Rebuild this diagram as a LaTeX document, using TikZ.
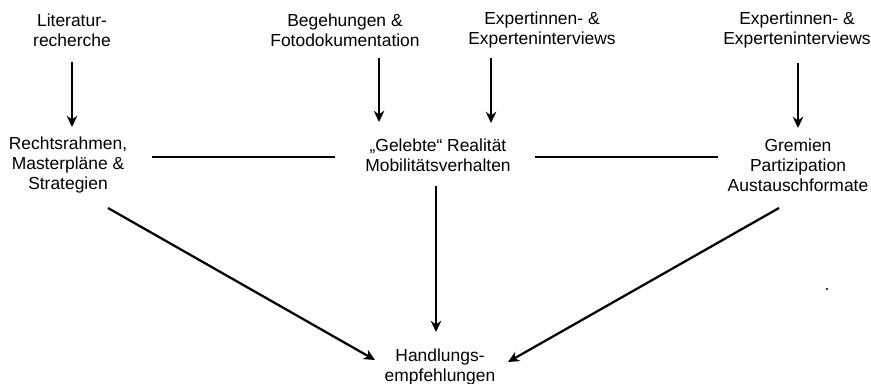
\documentclass[tikz,border=0pt]{standalone}
\usepackage{fontspec}
\setmainfont{Liberation Sans}
\usepackage{tikz}
\usetikzlibrary{arrows.meta, calc}

\begin{document}
\begin{tikzpicture}[
    x=0.025cm, y=-0.025cm,
    label/.style={align=center, inner sep=0pt, font=\fontsize{12.4}{14.2}\selectfont},
    arrow/.style={-{Stealth[length=8pt,width=7.5pt]}, line width=1.6pt},
    link/.style={line width=1.6pt}
]
\useasboundingbox (0,0) rectangle (871,383);

\node[label] (lit) at (72,30) {Literatur-\\recherche};
\node[label] (beg) at (345,30) {Begehungen \&\\Fotodokumentation};
\node[label] (expA) at (542,30) {Expertinnen- \&\\Experteninterviews};
\node[label] (expB) at (797,30) {Expertinnen- \&\\Experteninterviews};
\node[label] (recht) at (68,165) {Rechtsrahmen,\\Masterpläne \&\\Strategien};
\node[label] (real) at (438,155) {„Gelebte“ Realität\\Mobilitätsverhalten};
\node[label] (grem) at (798,165) {Gremien\\Partizipation\\Austauschformate};
\node[label] (handl) at (440,367) {Handlungs-\\empfehlungen};
\node[label, anchor=base] (dot) at (827,290) {.};

\draw[arrow] ($(lit)+(0,32)$) -- ($(recht)+(4,-38)$);
\draw[arrow] ($(beg)+(34,28)$) -- ($(real)+(-59,-33)$);
\draw[arrow] ($(expA)+(-51,28)$) -- ($(real)+(53,-32)$);
\draw[arrow] ($(expB)+(1,33)$) -- ($(grem)+(0,-37)$);

\draw[link] ($(recht)+(84,-8)$) -- ($(real)+(-103,2)$);
\draw[link] ($(real)+(97,2)$) -- ($(grem)+(-80,-8)$);

\draw[arrow] ($(recht)+(40,43)$) -- ($(handl)+(-65,-7)$);
\draw[arrow] ($(real)+(-2,31)$) -- ($(handl)+(-4,-35)$);
\draw[arrow] ($(grem)+(-19,43)$) -- ($(handl)+(68,-5)$);
\end{tikzpicture}
\end{document}
